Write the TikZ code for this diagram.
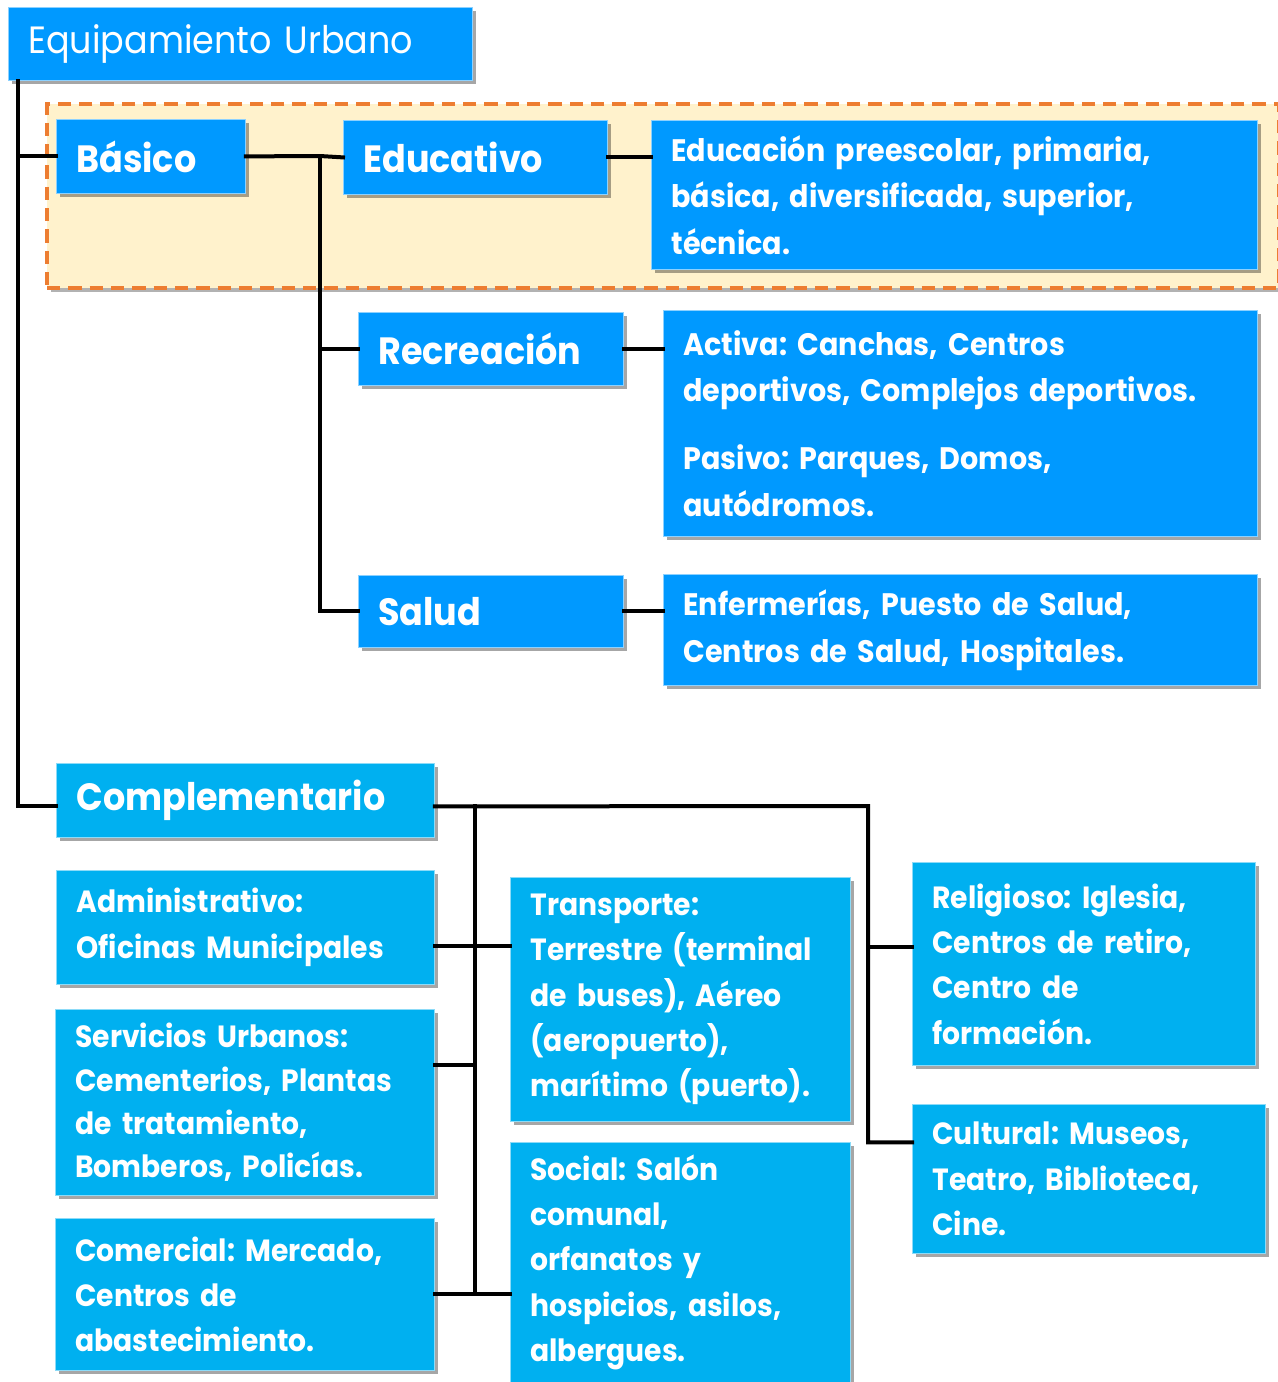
\documentclass[tikz,border=0pt]{standalone}
\usepackage{fontspec}
\setmainfont{Poppins}[FakeStretch=0.92]
\usetikzlibrary{shadows}
\definecolor{topblue}{HTML}{0099FF}
\definecolor{lowblue}{HTML}{00B0F0}
\definecolor{dashorange}{HTML}{ED7D31}
\definecolor{dashfill}{HTML}{FFF2CC}
\tikzset{
  boxbase/.style={anchor=north west, text=white, align=left, inner xsep=15pt, inner ysep=0pt,
    draw=white!55!topblue, line width=0.6pt,
    drop shadow={shadow xshift=3pt, shadow yshift=-3pt, opacity=0.35, fill=black}},
  topbox/.style={boxbase, fill=topblue},
  lowbox/.style={boxbase, fill=lowblue, draw=white!55!lowblue},
  headfont/.style={font=\frenchspacing\fontsize{28.5}{34}\selectfont\bfseries},
  descfont/.style={font=\frenchspacing\fontsize{23.3}{35}\selectfont\bfseries},
  lowfont/.style={font=\frenchspacing\fontsize{23}{34}\selectfont\bfseries},
  conn/.style={draw=black, line width=3pt, line cap=rect}
}
\begin{document}
\begin{tikzpicture}[x=0.75pt,y=-0.75pt]
\useasboundingbox (0,0) rectangle (1278,1382);
% dashed group
\node[anchor=north west, draw=dashorange, fill=dashfill, dash pattern=on 10pt off 6pt, line width=3pt,
  minimum width=924pt, minimum height=138pt, inner sep=0pt,
  drop shadow={shadow xshift=3pt, shadow yshift=-3pt, opacity=0.3, fill=black}] (grp) at (45,102) {};

\node[topbox, font=\fontsize{28.5}{32}\selectfont, minimum width=348pt, minimum height=54.75pt, text width=318pt] (eq) at (8,7) {Equipamiento Urbano};
\node[topbox, headfont, minimum width=141.75pt, minimum height=55.5pt, text width=111.75pt] (bas) at (56,119) {Básico};
\node[topbox, headfont, minimum width=198pt, minimum height=55.5pt, text width=168pt] (edu) at (343,120) {Educativo};
\node[topbox, descfont, minimum width=454.5pt, minimum height=111.75pt, text width=424.5pt] (edud) at (651,120)
  {Educación preescolar, primaria,\\ básica, diversificada, superior,\\ técnica.};
\node[topbox, headfont, minimum width=198.75pt, minimum height=54.75pt, text width=168.75pt] (rec) at (358,312) {Recreación};
\node[topbox, descfont, minimum width=445.5pt, minimum height=169.5pt, text width=415.5pt] (recd) at (663,310)
  {Activa: Canchas, Centros\\ deportivos, Complejos deportivos.\\[15.75pt] Pasivo: Parques, Domos,\\ autódromos.};
\node[topbox, headfont, minimum width=198.75pt, minimum height=54pt, text width=168.75pt] (sal) at (358,575) {Salud};
\node[topbox, descfont, minimum width=445.5pt, minimum height=83.25pt, text width=415.5pt] (sald) at (663,574)
  {Enfermerías, Puesto de Salud,\\ Centros de Salud, Hospitales.};

\node[lowbox, headfont, minimum width=283.5pt, minimum height=55.5pt, text width=253.5pt] (comp) at (56,763) {Complementario};
\node[lowbox, lowfont, minimum width=283.5pt, minimum height=85.5pt, text width=253.5pt] (adm) at (56,870)
  {Administrativo:\\ Oficinas Municipales};
\node[lowbox, font=\frenchspacing\fontsize{23}{32.5}\selectfont\bfseries, minimum width=284.25pt, minimum height=139.5pt, text width=254.25pt] (ser) at (55,1009)
  {Servicios Urbanos:\\ Cementerios, Plantas\\ de tratamiento,\\ Bomberos, Policías.};
\node[lowbox, lowfont, minimum width=284.25pt, minimum height=114pt, text width=254.25pt] (com) at (55,1218)
  {Comercial: Mercado,\\ Centros de\\ abastecimiento.};
\node[lowbox, lowfont, minimum width=255pt, minimum height=183pt, text width=225pt] (tra) at (510,877)
  {Transporte:\\ Terrestre (terminal\\ de buses), Aéreo\\ (aeropuerto),\\ marítimo (puerto).};
\node[lowbox, lowfont, minimum width=255pt, minimum height=180pt, text width=225pt] (soc) at (510,1142)
  {Social: Salón\\ comunal,\\ orfanatos y\\ hospicios, asilos,\\ albergues.};
\node[lowbox, lowfont, minimum width=257.25pt, minimum height=152.25pt, text width=227.25pt] (rel) at (912,862)
  {Religioso: Iglesia,\\ Centros de retiro,\\ Centro de\\ formación.};
\node[lowbox, lowfont, minimum width=264.75pt, minimum height=111.75pt, text width=234.75pt] (cul) at (912,1104)
  {Cultural: Museos,\\ Teatro, Biblioteca,\\ Cine.};

% connectors
\coordinate (tr) at ([xshift=7.5pt]eq.south west);
\coordinate (cw) at ([yshift=-4.5pt]comp.west);
\coordinate (ce) at ([yshift=-4.5pt]comp.east);
\draw[conn] (tr) |- (cw);
\draw[conn] (tr |- bas.west) -- (bas.west);
\coordinate (sp) at (320,156);
\draw[conn] (bas.east) -- (sp) -- (edu.west);
\draw[conn] (sp) |- (sal.west);
\draw[conn] (sp |- rec.west) -- (rec.west);
\draw[conn] (edu.east) -- (edu.east -| edud.west);
\draw[conn] (rec.east) -- (rec.east -| recd.west);
\draw[conn] (sal.east) -- (sal.east -| sald.west);

\coordinate (ls) at (475,806);
\coordinate (rs) at (868,806);
\coordinate (relin) at ([yshift=13pt]rel.west);
\coordinate (culin) at ([yshift=27.4pt]cul.west);
\draw[conn] (ce) -- (rs) |- (culin);
\draw[conn] (rs |- relin) -- (relin);
\draw[conn] (ls) -- (ls |- com.east);
\coordinate (admout) at ([yshift=-14.25pt]adm.east);
\draw[conn] (admout) -- (admout -| tra.west);
\coordinate (serout) at ([yshift=27.75pt]ser.east);
\draw[conn] (serout) -- (serout -| ls);
\draw[conn] (com.east) -- (com.east -| soc.west);
\end{tikzpicture}
\end{document}
